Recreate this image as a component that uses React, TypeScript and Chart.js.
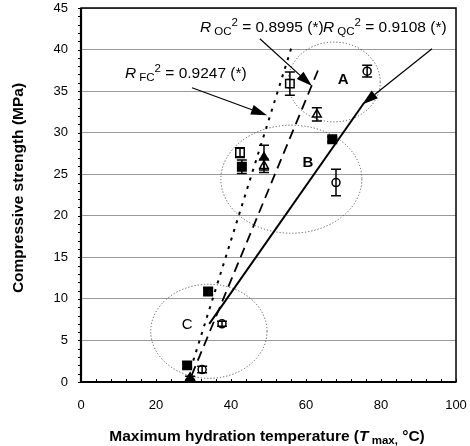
import React, { useEffect, useRef } from "react";
import { Chart, registerables } from "chart.js";
Chart.register(...registerables);

const FONT = "'Liberation Sans', Arial, Helvetica, sans-serif";

// Axis ticks
const xTicks = [0, 20, 40, 60, 80, 100];
const yTicks = [0, 5, 10, 15, 20, 25, 30, 35, 40, 45];

// Marker series (x, y, error half-width)
const filledSquareX = [28.3, 33.9, 42.9, 67.0];
const filledSquareY = [2.0, 10.9, 25.9, 29.2];
const filledSquareErr = [0.4, 0.4, 0.8, 0.3];

const openSquareX = [42.4, 55.7];
const openSquareY = [27.6, 35.9];
const openSquareErr = [0.6, 1.4];

const filledTriX = [29.1, 48.8];
const filledTriY = [0.5, 27.0];
const filledTriErr = [0.2, 1.5];

const openTriX = [48.8, 62.9];
const openTriY = [26.0, 32.2];
const openTriErr = [0.8, 0.8];

const openCircleX = [32.3, 37.6, 68.0, 76.3];
const openCircleY = [1.5, 7.0, 24.0, 37.4];
const openCircleErr = [0.4, 0.3, 1.6, 0.7];

// Regression lines
const fitFX = [28.5, 56.3];
const fitFY = [0.5, 40.5];
const fitOX = [29.5, 63.2];
const fitOY = [0.8, 37.5];
const fitQX = [34.2, 75.5];
const fitQY = [7.0, 33.6];

// Group ellipses
const groupLabels = ["A", "B", "C"];
const groupLabelX = [69.9, 60.5, 28.3];
const groupLabelY = [36.3, 26.4, 6.9];
const ellCX = [67.5, 56.1, 34.1];
const ellCY = [36.1, 24.4, 6.1];
const ellRX = [12.3, 18.8, 15.5];
const ellRY = [4.8, 6.5, 5.66];

// R² annotations
const annSub = ["OC", "QC", "FC"];
const annValue = ["0.8995", "0.9108", "0.9247"];
const annX = [31.7, 64.5, 11.7];
const annY = [42.1, 42.1, 36.6];
const arrowFromX = [47.7, 93.6, 29.6];
const arrowFromY = [41.3, 40.1, 35.4];
const arrowToX = [61.6, 75.0, 49.6];
const arrowToY = [35.6, 33.4, 32.1];

const pts = (xs: number[], ys: number[]) => xs.map((x, i) => ({ x, y: ys[i] }));

type Run = { t: string; f: string; dy?: number };
function drawRuns(ctx: CanvasRenderingContext2D, runs: Run[], x: number, y: number, align: "left" | "center" = "left") {
  let total = 0;
  for (const r of runs) { ctx.font = r.f; total += ctx.measureText(r.t).width; }
  let cx = align === "center" ? x - total / 2 : x;
  ctx.textAlign = "left";
  ctx.textBaseline = "alphabetic";
  for (const r of runs) {
    ctx.font = r.f;
    ctx.fillText(r.t, cx, y + (r.dy || 0));
    cx += ctx.measureText(r.t).width;
  }
}

const zeroPad = (s: any) => {
  s.paddingTop = 0;
  s.paddingBottom = 0;
  s.paddingLeft = 0;
  s.paddingRight = 0;
};

const decorPlugin = {
  id: "decor",
  beforeDatasetsDraw(chart: any) {
    const ctx = chart.ctx as CanvasRenderingContext2D;
    const xs = chart.scales.x, ys = chart.scales.y;
    const a = chart.chartArea;
    ctx.save();
    // ellipses
    ctx.strokeStyle = "#555";
    ctx.lineWidth = 1;
    ctx.setLineDash([1.2, 2]);
    for (let i = 0; i < ellCX.length; i++) {
      const cx = xs.getPixelForValue(ellCX[i]);
      const cy = ys.getPixelForValue(ellCY[i]);
      const rx = xs.getPixelForValue(ellCX[i] + ellRX[i]) - cx;
      const ry = cy - ys.getPixelForValue(ellCY[i] + ellRY[i]);
      ctx.beginPath();
      ctx.ellipse(cx, cy, rx, ry, 0, 0, Math.PI * 2);
      ctx.stroke();
    }
    ctx.setLineDash([]);
    // minor ticks
    ctx.strokeStyle = "#000";
    ctx.lineWidth = 1;
    for (let v = 0; v <= 45; v += 1) {
      const py = Math.round(ys.getPixelForValue(v)) + 0.5;
      ctx.beginPath();
      ctx.moveTo(a.left - 3, py);
      ctx.lineTo(a.left, py);
      ctx.stroke();
    }
    for (let v = 0; v <= 100; v += 4) {
      const px = Math.round(xs.getPixelForValue(v)) + 0.5;
      ctx.beginPath();
      ctx.moveTo(px, a.bottom);
      ctx.lineTo(px, a.bottom - 3);
      ctx.stroke();
    }
    ctx.restore();
  },
  afterDatasetsDraw(chart: any) {
    const ctx = chart.ctx as CanvasRenderingContext2D;
    const xs = chart.scales.x, ys = chart.scales.y;
    ctx.save();
    // error bars
    ctx.strokeStyle = "#000";
    ctx.lineWidth = 1.5;
    chart.data.datasets.forEach((ds: any) => {
      if (!ds.errors) return;
      ds.data.forEach((p: any, i: number) => {
        const e = ds.errors[i];
        if (!e) return;
        const px = xs.getPixelForValue(p.x);
        const top = ys.getPixelForValue(p.y + e);
        const bot = ys.getPixelForValue(p.y - e);
        ctx.beginPath();
        ctx.moveTo(px, top); ctx.lineTo(px, bot);
        ctx.moveTo(px - 5, top); ctx.lineTo(px + 5, top);
        ctx.moveTo(px - 5, bot); ctx.lineTo(px + 5, bot);
        ctx.stroke();
      });
    });
    // group labels
    ctx.fillStyle = "#000";
    ctx.textAlign = "center";
    ctx.textBaseline = "middle";
    groupLabels.forEach((l, i) => {
      ctx.font = (l === "C" ? "" : "bold ") + "15px " + FONT;
      ctx.fillText(l, xs.getPixelForValue(groupLabelX[i]), ys.getPixelForValue(groupLabelY[i]));
    });
    // annotations
    annSub.forEach((s, i) => {
      const x = xs.getPixelForValue(annX[i]);
      const y = ys.getPixelForValue(annY[i]);
      drawRuns(ctx, [
        { t: "R", f: "italic 15.5px " + FONT },
        { t: " " + s, f: "11.5px " + FONT, dy: 3 },
        { t: "2", f: "11.5px " + FONT, dy: -6 },
        { t: " = " + annValue[i] + " (*)", f: "15.5px " + FONT },
      ], x, y);
      // arrows
      const x1 = xs.getPixelForValue(arrowFromX[i]);
      const y1 = ys.getPixelForValue(arrowFromY[i]);
      const x2 = xs.getPixelForValue(arrowToX[i]);
      const y2 = ys.getPixelForValue(arrowToY[i]);
      const ang = Math.atan2(y2 - y1, x2 - x1);
      const L = 16, W = 5;
      const bx = x2 - L * Math.cos(ang), by = y2 - L * Math.sin(ang);
      ctx.lineWidth = 1.2;
      ctx.beginPath();
      ctx.moveTo(x1, y1); ctx.lineTo(bx, by);
      ctx.stroke();
      ctx.beginPath();
      ctx.moveTo(x2, y2);
      ctx.lineTo(bx + W * Math.sin(ang), by - W * Math.cos(ang));
      ctx.lineTo(bx - W * Math.sin(ang), by + W * Math.cos(ang));
      ctx.closePath();
      ctx.fill();
    });
    ctx.restore();
  },
  afterDraw(chart: any) {
    const ctx = chart.ctx as CanvasRenderingContext2D;
    const a = chart.chartArea;
    ctx.save();
    ctx.strokeStyle = "#000";
    ctx.lineWidth = 1.5;
    ctx.strokeRect(a.left, a.top, a.right - a.left, a.bottom - a.top);
    ctx.lineWidth = 2.2;
    ctx.beginPath();
    ctx.moveTo(a.left, a.top); ctx.lineTo(a.left, a.bottom); ctx.lineTo(a.right, a.bottom);
    ctx.stroke();
    // axis titles
    ctx.fillStyle = "#000";
    drawRuns(ctx, [
      { t: "Maximum hydration temperature (", f: "bold 15.5px " + FONT },
      { t: "T", f: "italic bold 15.5px " + FONT },
      { t: " max,", f: "bold 11.5px " + FONT, dy: 3 },
      { t: " °C)", f: "bold 15.5px " + FONT },
    ], 267, 441, "center");
    ctx.translate(23, 188);
    ctx.rotate(-Math.PI / 2);
    ctx.font = "bold 15.5px " + FONT;
    ctx.textAlign = "center";
    ctx.textBaseline = "alphabetic";
    ctx.fillText("Compressive strength (MPa)", 0, 0);
    ctx.restore();
  },
};

export default function App() {
  const ref = useRef<HTMLCanvasElement>(null);
  useEffect(() => {
    document.body.style.margin = "0";
    const marker = (data: any, style: string, fill: string, r: number, errors: number[]) => ({
      type: "scatter" as const,
      data,
      pointStyle: style,
      pointRadius: r,
      pointBackgroundColor: fill,
      pointBorderColor: "#000",
      pointBorderWidth: 1.5,
      showLine: false,
      errors,
    });
    const line = (data: any, dash: number[], w: number) => ({
      type: "line" as const,
      data,
      borderColor: "#000",
      borderWidth: w,
      borderDash: dash,
      pointRadius: 0,
      fill: false,
    });
    const chart = new Chart(ref.current!, {
      type: "scatter",
      data: {
        datasets: [
          line(pts(fitFX, fitFY), [3, 6], 2),
          line(pts(fitOX, fitOY), [10, 6], 1.8),
          line(pts(fitQX, fitQY), [], 2),
          marker(pts(filledSquareX, filledSquareY), "rect", "#000", 6, filledSquareErr),
          marker(pts(openSquareX, openSquareY), "rect", "#fff", 6, openSquareErr),
          marker(pts(filledTriX, filledTriY), "triangle", "#000", 5, filledTriErr),
          marker(pts(openTriX, openTriY), "triangle", "#fff", 5, openTriErr),
          marker(pts(openCircleX, openCircleY), "circle", "#fff", 4, openCircleErr),
        ] as any,
      },
      options: {
        animation: false,
        responsive: false,
        devicePixelRatio: 1,
        layout: { padding: { top: 8, right: 14, left: 0, bottom: 0 } },
        plugins: { legend: { display: false }, tooltip: { enabled: false } },
        scales: {
          x: {
            type: "linear",
            min: 0,
            max: 100,
            afterBuildTicks: (s: any) => { s.ticks = xTicks.map((v) => ({ value: v })); },
            afterFit: (s: any) => { s.height = 64; zeroPad(s); },
            grid: { display: false, drawTicks: false },
            border: { display: false },
            ticks: { color: "#000", font: { family: FONT, size: 13 }, padding: 16, maxRotation: 0 },
          },
          y: {
            type: "linear",
            min: 0,
            max: 45,
            afterBuildTicks: (s: any) => { s.ticks = yTicks.map((v) => ({ value: v })); },
            afterFit: (s: any) => { s.width = 81; zeroPad(s); },
            grid: { color: "#9a9a9a", lineWidth: 1, drawTicks: false },
            border: { display: false },
            ticks: { color: "#000", font: { family: FONT, size: 13 }, padding: 13 },
          },
        },
      },
      plugins: [decorPlugin],
    });
    return () => chart.destroy();
  }, []);
  return (
    <div style={{ position: "absolute", left: 0, top: 0, width: 470, height: 446, background: "#fff" }}>
      <canvas ref={ref} width={470} height={446} />
    </div>
  );
}
